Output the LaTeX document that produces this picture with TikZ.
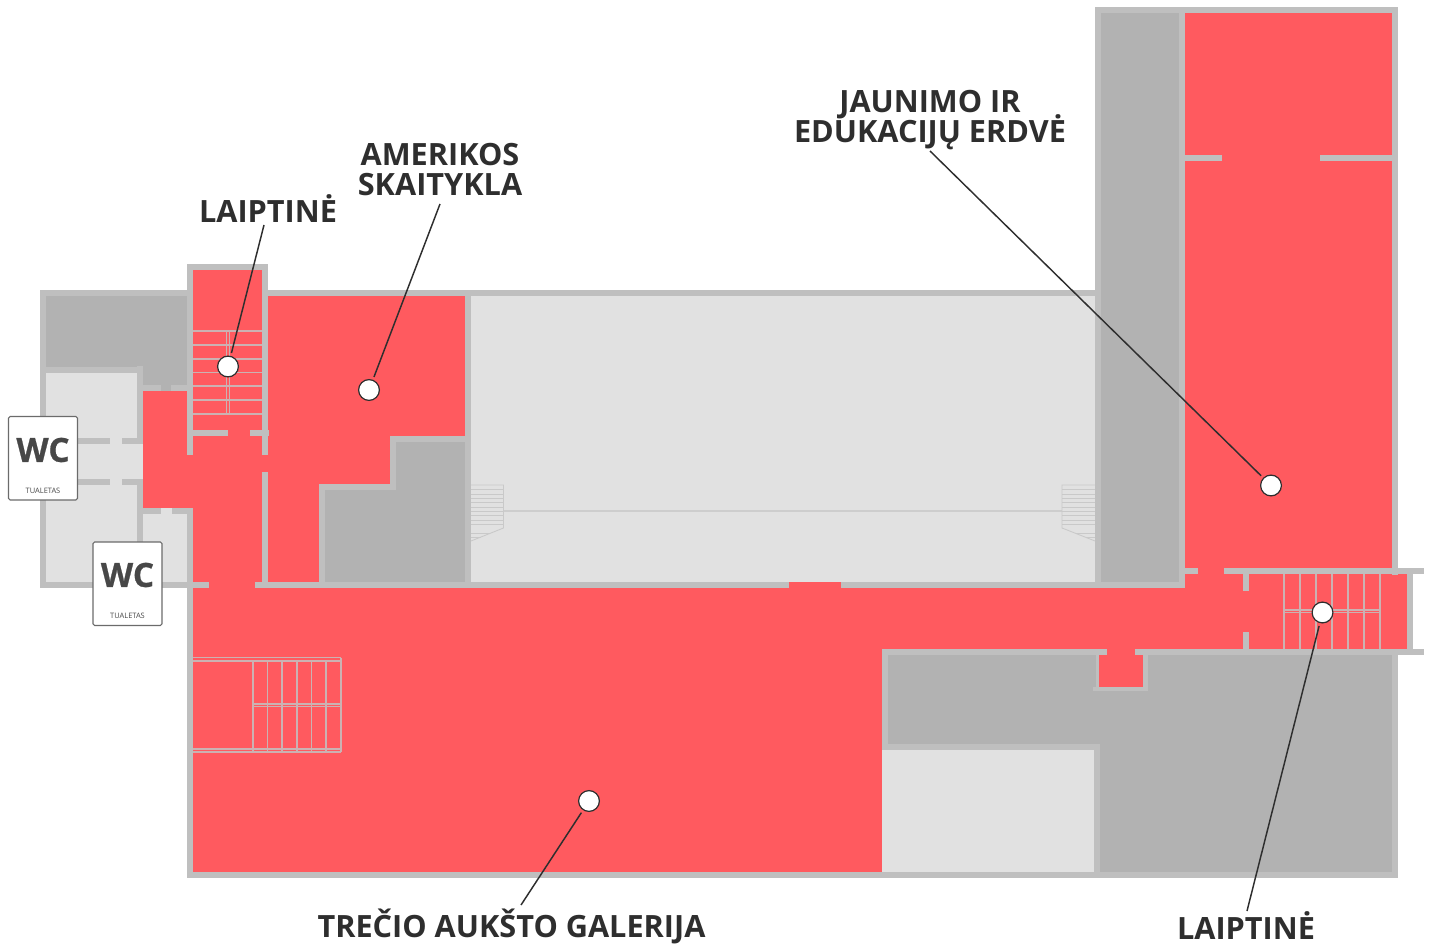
\documentclass[tikz,border=0pt]{standalone}
\usepackage{fontspec}
\setmainfont{Open Sans}
\newfontfamily\wcfont[FakeBold=0.7]{Open Sans Bold}
\lineskiplimit=-30pt\relax
\definecolor{wallc}{HTML}{BFBFBF}
\definecolor{redc}{HTML}{FF5A5F}
\definecolor{darkc}{HTML}{B2B2B2}
\definecolor{lightc}{HTML}{E1E1E1}
\definecolor{stairc}{HTML}{CBB2B2}
\definecolor{inkc}{HTML}{2E2E2E}
\tikzset{
  wall/.style={fill=wallc},
  redroom/.style={fill=redc},
  darkroom/.style={fill=darkc},
  lightroom/.style={fill=lightc},
  stairline/.style={draw=stairc,line width=0.95pt},
  galleryline/.style={draw=wallc!60!lightc,line width=0.9pt},
  gallerystep/.style={draw=wallc!70!lightc,line width=0.65pt},
  dot/.style={circle,draw=inkc,line width=0.9pt,fill=white,minimum size=15.6pt,inner sep=0pt},
  leader/.style={draw=inkc,line width=1.1pt,shorten >=2.2pt},
  lab/.style={font=\bfseries\fontsize{23}{22.5}\selectfont,text=inkc,align=center,inner sep=0pt},
  wcbox/.style={draw=black!58,fill=white,line width=0.8pt,rounded corners=1.2pt},
  wctext/.style={font=\wcfont\fontsize{25}{26}\selectfont,text=black!72,inner sep=0pt},
  tualtext/.style={font=\fontsize{5.6}{6}\selectfont,text=black!72,inner sep=0pt}
}
\begin{document}
\begin{tikzpicture}[x=0.75pt,y=-0.75pt]
\useasboundingbox (0,0) rectangle (1431,944);
% rooms
\fill[darkroom] (46,296) rectangle (187,367);
\fill[darkroom] (143,367) rectangle (187,391);
\fill[lightroom] (46,373) rectangle (137,582);
\fill[lightroom] (137,443) rectangle (143,480);
\fill[lightroom] (143,508) rectangle (187,582);
\fill[redroom] (143,391) rectangle (187,508);
\fill[redroom] (187,270) rectangle (262,582);
\fill[redroom] (187,455) rectangle (268,472);
\fill[redroom] (268,296) rectangle (465,436);
\fill[redroom] (268,436) rectangle (390,484);
\fill[redroom] (268,484) rectangle (319,582);
\fill[darkroom] (396,442) rectangle (465,490);
\fill[darkroom] (325,490) rectangle (465,582);
\fill[lightroom] (471,296) rectangle (1095,582);
\fill[darkroom] (1101,13) rectangle (1179,582);
\fill[redroom] (1185,13) rectangle (1392,570);
\fill[redroom] (193,582) rectangle (882,872);
\fill[redroom] (882,582) rectangle (1185,650);
\fill[redroom] (1185,570) rectangle (1407,650);
\fill[darkroom] (888,655) rectangle (1393,872);
\fill[lightroom] (882,750) rectangle (1095,872);
\fill[redroom] (1099,650) rectangle (1143,688);
% walls, left block
\fill[wall] (40,290) rectangle (187,296);
\fill[wall] (40,290) rectangle (46,588);
\fill[wall] (46,367) rectangle (143,373);
\fill[wall] (137,366) rectangle (143,438);
\fill[wall] (137,485) rectangle (143,582);
\fill[wall] (143,385) rectangle (161,391);
\fill[wall] (171,385) rectangle (187,391);
\fill[wall] (78,438) rectangle (110,444);
\fill[wall] (122,438) rectangle (143,444);
\fill[wall] (78,479) rectangle (110,485);
\fill[wall] (122,479) rectangle (143,485);
\fill[wall] (143,508) rectangle (161,514);
\fill[wall] (172,508) rectangle (193,514);
\fill[wall] (40,582) rectangle (209,588);
% stair tower
\fill[wall] (187,264) rectangle (268,270);
\fill[wall] (187,264) rectangle (193,455);
\fill[wall] (187,508) rectangle (193,878);
\fill[wall] (262,264) rectangle (268,455);
\fill[wall] (262,472) rectangle (268,582);
\fill[wall] (193,430) rectangle (228,436);
\fill[wall] (250,430) rectangle (269,436);
% middle
\fill[wall] (268,290) rectangle (1096,296);
\fill[wall] (465,290) rectangle (471,588);
\fill[wall] (390,436) rectangle (465,442);
\fill[wall] (390,436) rectangle (396,490);
\fill[wall] (319,484) rectangle (396,490);
\fill[wall] (319,484) rectangle (325,588);
\fill[wall] (255,582) rectangle (789,588);
\fill[wall] (841,582) rectangle (1185,588);
% tall wing
\fill[wall] (1095,7) rectangle (1398,13);
\fill[wall] (1095,7) rectangle (1101,588);
\fill[wall] (1179,7) rectangle (1185,588);
\fill[wall] (1392,7) rectangle (1398,575);
\fill[wall] (1185,155) rectangle (1222,161);
\fill[wall] (1320,155) rectangle (1392,161);
\fill[wall] (1185,568) rectangle (1198,574);
\fill[wall] (1224,568) rectangle (1424,574);
\fill[wall] (1407,574) rectangle (1413,649);
\fill[wall] (1243,574) rectangle (1249,591);
\fill[wall] (1243,632) rectangle (1249,649);
% lower right
\fill[wall] (882,649) rectangle (1107,655);
\fill[wall] (1135,649) rectangle (1424,655);
\fill[wall] (882,649) rectangle (888,750);
\fill[wall] (882,744) rectangle (1100,750);
\fill[wall] (1094,744) rectangle (1100,878);
\fill[wall] (187,872) rectangle (1398,878);
\fill[wall] (1392,655) rectangle (1398,878);
\fill[wall] (1096,649) rectangle (1099,691);
\fill[wall] (1143,649) rectangle (1148,691);
\fill[wall] (1093,687) rectangle (1148,691);
% upper-left stairs
\foreach \yy in {331,345,359,372.5,386,400,414} \draw[stairline] (193,\yy) -- (262,\yy);
\foreach \xx in {226.7,229.7} \draw[stairline] (\xx,331) -- (\xx,414);
% right stairs
\foreach \xx in {1284,1300,1316,1332,1348,1364,1380} \draw[stairline] (\xx,574) -- (\xx,649);
\foreach \yy in {610,612.5} \draw[stairline] (1284,\yy) -- (1380,\yy);
% big stairs
\foreach \yy in {657.5,661,749,752} \draw[stairline] (193,\yy) -- (341,\yy);
\foreach \xx in {253,267.5,282,297,311.5,326,341} \draw[stairline] (\xx,661) -- (\xx,752);
\draw[stairline] (341,657.5) -- (341,661);
\foreach \yy in {704,706.5} \draw[stairline] (253,\yy) -- (341,\yy);
% gallery stairs
\draw[galleryline] (503.5,511) -- (1062,511);
\draw[gallerystep] (471,485) -- (503.5,485) -- (503.5,528) -- (471,541);
\draw[gallerystep] (1095,485) -- (1062,485) -- (1062,528) -- (1095,541);
\foreach \yy in {489.5,494,498,502.5,507,511,515.5,520,524}{
  \draw[gallerystep] (471,\yy) -- (503.5,\yy);
  \draw[gallerystep] (1062,\yy) -- (1095,\yy);
}
\draw[gallerystep] (471,533) -- (490,533) (1076,533) -- (1095,533);
\draw[gallerystep] (471,537) -- (481,537) (1086,537) -- (1095,537);
% WC signs
\fill[wcbox,draw=black!58] (8.5,416.5) rectangle (77.5,500);
\node[wctext] (wc1) at (43,450) {WC};
\node[tualtext] (tu1) at (43,491) {TUALETAS};
\fill[wcbox,draw=black!58] (93,542) rectangle (162,625.5);
\node[wctext] (wc2) at (127.5,575) {WC};
\node[tualtext] (tu2) at (127.5,616) {TUALETAS};
% dots
\node[dot] (d1) at (228,366.5) {};
\node[dot] (d2) at (369,390) {};
\node[dot] (d3) at (1271,485.5) {};
\node[dot] (d4) at (1322.5,612.5) {};
\node[dot] (d5) at (589,801) {};
% labels
\node[lab] (l1) at (268,208.5) {LAIPTINĖ};
\node[lab] (l2) at (440,169.5) {AMERIKOS\\SKAITYKLA};
\node[lab] (l3) at (930,120.5) {JAUNIMO IR\\EDUKACIJŲ ERDVĖ};
\node[lab] (l4) at (511.5,926) {TREČIO AUKŠTO GALERIJA};
\node[lab] (l5) at (1246,926) {LAIPTINĖ};
% leaders
\coordinate (s1) at (264,225);
\coordinate (s2) at (440,204);
\coordinate (s3) at (930,151);
\coordinate (s4) at (521,905);
\coordinate (s5) at (1247,911);
\draw[leader] (s1) -- (d1);
\draw[leader] (s2) -- (d2);
\draw[leader] (s3) -- (d3);
\draw[leader] (s4) -- (d5);
\draw[leader] (s5) -- (d4);
\end{tikzpicture}
\end{document}
